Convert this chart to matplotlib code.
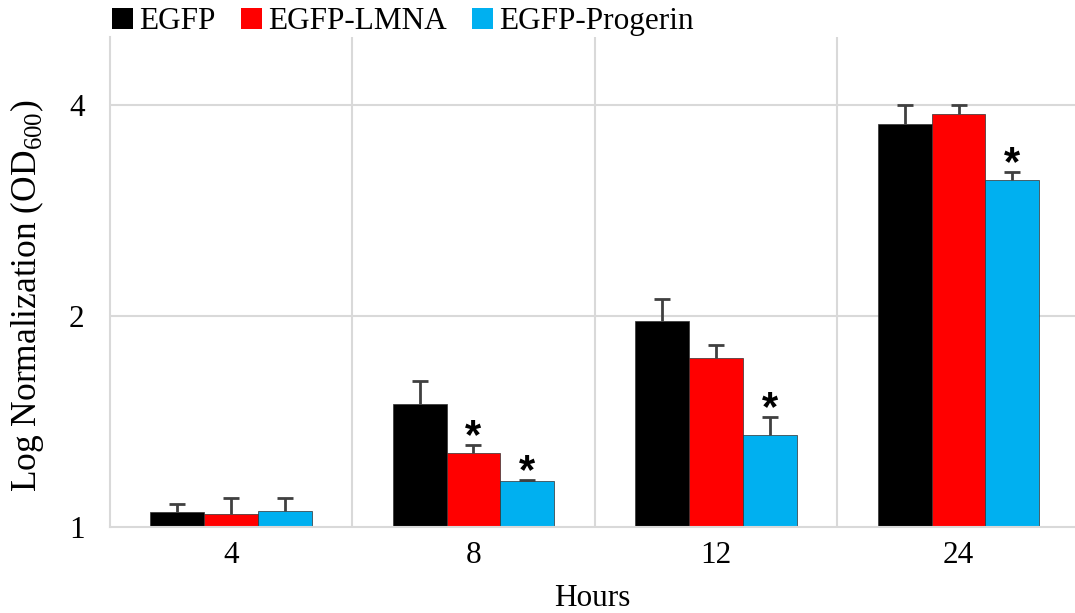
import numpy as np
import matplotlib
matplotlib.use("Agg")
import matplotlib.pyplot as plt
from matplotlib.patches import Patch

plt.rcParams["font.family"] = ["Liberation Serif", "DejaVu Serif"]
plt.rcParams["mathtext.fontset"] = "custom"
plt.rcParams["mathtext.rm"] = "Liberation Serif"

hours = ["4", "8", "12", "24"]
series = ["EGFP", "EGFP-LMNA", "EGFP-Progerin"]
colors = ["#000000", "#ff0000", "#00b0f0"]

egfp = [1.05, 1.50, 1.97, 3.76]
egfp_err = [0.03, 0.115, 0.145, 0.24]
lmna = [1.044, 1.275, 1.74, 3.875]
lmna_err = [0.056, 0.034, 0.078, 0.125]
progerin = [1.054, 1.163, 1.353, 3.12]
progerin_err = [0.046, 0.004, 0.082, 0.09]

# significance marks: (series index, hour index)
stars = [(1, 1), (2, 1), (2, 2), (2, 3)]

values = [egfp, lmna, progerin]
errors = [egfp_err, lmna_err, progerin_err]

fig = plt.figure(figsize=(10.75, 6.13), dpi=100)
ax = fig.add_axes([0.102, 0.140, 0.898, 0.800])

x = np.arange(len(hours))
width = 0.222
err_color = "#404040"
for i, (vals, errs) in enumerate(zip(values, errors)):
    pos = x + (i - 1) * width
    vals = np.array(vals)
    errs = np.array(errs)
    ax.bar(pos, vals - 1, width, bottom=1, color=colors[i], zorder=2,
           edgecolor="#303030", linewidth=0.5)
    ax.vlines(pos, vals, vals + errs, color=err_color, lw=2, zorder=3)
    ax.plot(pos, vals + errs, "_", color=err_color, ms=12, mew=2, zorder=3)

for s, h in stars:
    top = values[s][h] + errors[s][h]
    ax.annotate("*", (h + (s - 1) * width, top), xytext=(0, -2),
                textcoords="offset points", ha="center", va="baseline",
                fontsize=30, fontweight="bold", family="Liberation Sans")

ax.set_yscale("log", base=2)
ax.set_ylim(1, 5)
ax.set_yticks([1, 2, 4])
ax.set_yticklabels(["1", "2", "4"])
ax.minorticks_off()
ax.set_xlim(-0.5, 3.48)
ax.set_xticks(x)
ax.set_xticklabels(hours)
ax.tick_params(axis="both", length=0, labelsize=22.5)
ax.tick_params(axis="x", pad=10)
ax.tick_params(axis="y", pad=18)

grid_color = "#d9d9d9"
for yv in [2, 4]:
    ax.axhline(yv, color=grid_color, lw=1.5, zorder=0)
for xv in x[:-1] + 0.5:
    ax.axvline(xv, color=grid_color, lw=1.5, zorder=0)
for side in ["top", "right"]:
    ax.spines[side].set_visible(False)
for side in ["left", "bottom"]:
    ax.spines[side].set_color(grid_color)
    ax.spines[side].set_linewidth(1.5)

ax.set_xlabel("Hours", fontsize=22.5, labelpad=10)
ax.set_ylabel(r"Log Normalization (OD$_{600}$)", fontsize=25.5)
ax.yaxis.set_label_coords(-0.066, 0.473)

handles = [Patch(facecolor=c) for c in colors]
fig.legend(handles, series, loc="upper left", bbox_to_anchor=(0.104, 0.988),
           ncol=3, frameon=False, fontsize=22.5, handlelength=0.68,
           handleheight=0.65, handletextpad=0.2, columnspacing=0.8,
           borderpad=0, borderaxespad=0)

fig.savefig("out.png", dpi=100)
